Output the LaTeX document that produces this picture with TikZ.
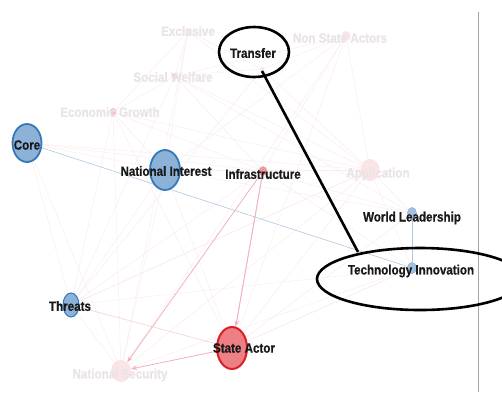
\documentclass[tikz,border=0pt]{standalone}
\usepackage{fontspec}
\setmainfont{Liberation Sans}
\newfontfamily\narrowfont[FakeStretch=0.86,FakeBold=0.6]{Liberation Sans}
\usetikzlibrary{shapes.geometric,arrows.meta}
\pgfdeclarelayer{paper}
\pgfdeclarelayer{edges}
\pgfsetlayers{paper,edges,main}
\definecolor{bluefill}{RGB}{140,178,215}
\definecolor{blueedge}{RGB}{52,120,185}
\definecolor{redfill}{RGB}{236,128,132}
\definecolor{rededge}{RGB}{220,30,40}
\definecolor{faintnode}{RGB}{250,228,230}
\definecolor{fainttext}{RGB}{234,228,230}
\definecolor{faintedge}{RGB}{250,236,238}
\definecolor{redarrow}{RGB}{242,178,186}
\definecolor{blueline}{RGB}{178,200,222}
\tikzset{
  vtx/.style={ellipse,inner sep=0pt},
  bluev/.style={vtx,fill=bluefill,draw=blueedge,line width=1.8pt},
  smallblue/.style={vtx,fill=bluefill!80,draw=blueedge!60,line width=0.5pt},
  redv/.style={vtx,fill=redfill,draw=rededge,line width=2pt},
  smallred/.style={vtx,fill=redfill!80,draw=rededge!40,line width=0.5pt},
  faintv/.style={vtx,fill=faintnode},
  lbl/.style={font=\narrowfont\bfseries\fontsize{13.5}{13.5}\selectfont,text=black!90,inner sep=0pt},
  flbl/.style={lbl,text=fainttext},
  fedge/.style={draw=faintedge,line width=0.45pt},
  redarr/.style={draw=redarrow,line width=0.8pt,-{Stealth[length=6pt,width=4.5pt]}},
  hilite/.style={draw=black,line width=2.6pt,ellipse,inner sep=0pt}
}
\begin{document}
\begin{tikzpicture}[x=1pt,y=-1pt]
\begin{pgfonlayer}{paper}
\fill[white] (0,0) rectangle (502,392);
\end{pgfonlayer}
\useasboundingbox (0,0) rectangle (502,392);
% divider
\coordinate (dtop) at (478,12);
\coordinate (dbot) at (478,392);
\draw[gray!70,line width=0.6pt] (dtop) -- (dbot);
% vertices
\node[faintv,minimum width=5pt,minimum height=6pt] (ex) at (188,31) {};
\node[faintv,minimum width=4pt,minimum height=4pt] (tr) at (262,69) {};
\node[faintv,minimum width=9pt,minimum height=10pt] (nsa) at (346,36) {};
\node[smallred,fill=redfill!40,draw=none,minimum width=5pt,minimum height=6pt] (sw) at (175,76) {};
\node[smallred,fill=redfill!45,draw=none,minimum width=7pt,minimum height=8pt] (eg) at (113,112) {};
\node[bluev,minimum width=29pt,minimum height=38pt] (core) at (27,143) {};
\node[bluev,minimum width=30pt,minimum height=40pt] (ni) at (165,170) {};
\node[smallred,minimum width=8pt,minimum height=9pt] (inf) at (263,171) {};
\node[faintv,minimum width=19pt,minimum height=22pt] (app) at (370,170) {};
\node[smallblue,minimum width=9pt,minimum height=11pt] (wl) at (412,213) {};
\node[smallblue,minimum width=9pt,minimum height=11pt] (ti) at (412,268) {};
\node[smallblue,fill=bluefill,draw=blueedge,line width=1pt,minimum width=16pt,minimum height=24pt] (th) at (71,305) {};
\node[redv,minimum width=30pt,minimum height=42pt] (sa) at (232,348) {};
\node[faintv,minimum width=20pt,minimum height=22pt] (ns) at (121,371) {};
% edges (behind the vertices)
\begin{pgfonlayer}{edges}
\foreach \a/\b in {ex/eg, ex/ni, ex/tr, ex/sw, ex/app, ex/ns, sw/eg, sw/app, sw/th, sw/wl, sw/inf, sw/nsa,
  eg/ni, eg/inf, eg/th, eg/sa, eg/app, eg/ns, core/ni, core/th, core/ns, core/app, core/inf,
  ni/inf, ni/sa, ni/app, ni/th, ni/ns, nsa/inf, nsa/app, nsa/sa, nsa/tr, nsa/ni, nsa/ns, tr/app, tr/sw,
  inf/app, inf/th, inf/wl, app/wl, app/sa, app/ns, app/th, ti/sa, ti/ns, ti/app, ti/inf, wl/sa, wl/ni,
  th/ns, th/app, th/ti, sa/ti, tr/th}
  \draw[fedge] (\a) -- (\b);
\draw[draw=redarrow!60,line width=0.6pt] (th) -- (sa);
\draw[blueline,line width=0.6pt] (core) -- (ti);
\draw[blueline,line width=0.6pt] (wl) -- (ti);
% red arrows
\draw[redarr] (inf) -- (ns);
\draw[redarr] (inf) -- (sa);
\draw[redarr] (sa) -- (ns);
\draw[draw=redarrow,line width=0.6pt] (sa) -- (inf);
\end{pgfonlayer}
% labels
\node[flbl] (exl) at (188,31) {Exclusive};
\node[flbl] (nsal) at (340,38) {Non State Actors};
\node[flbl] (swl) at (173,77) {Social Welfare};
\node[flbl] (egl) at (110,112) {Economic Growth};
\node[flbl] (appl) at (378,174) {Application};
\node[flbl] (nsl) at (120,375) {National Security};
\node[lbl] (trl) at (253,53) {Transfer};
\node[lbl] (corel) at (27,145) {Core};
\node[lbl] (nil) at (166,171) {National Interest};
\node[lbl] (infl) at (263,174) {Infrastructure};
\node[lbl] (wll) at (412,218) {World Leadership};
\node[lbl] (til) at (411,271) {Technology Innovation};
\node[lbl] (thl) at (70,306) {Threats};
\node[lbl] (sal) at (244,348) {State Actor};
% highlight ellipses and connector
\node[hilite,minimum width=70pt,minimum height=50pt] (trring) at (254,52) {};
\node[hilite,minimum width=206pt,minimum height=62pt] (tiring) at (420,279) {};
\coordinate (lnA) at (262,71);
\coordinate (lnB) at (358,252);
\draw[black,line width=2.6pt] (lnA) -- (lnB);
\end{tikzpicture}
\end{document}
